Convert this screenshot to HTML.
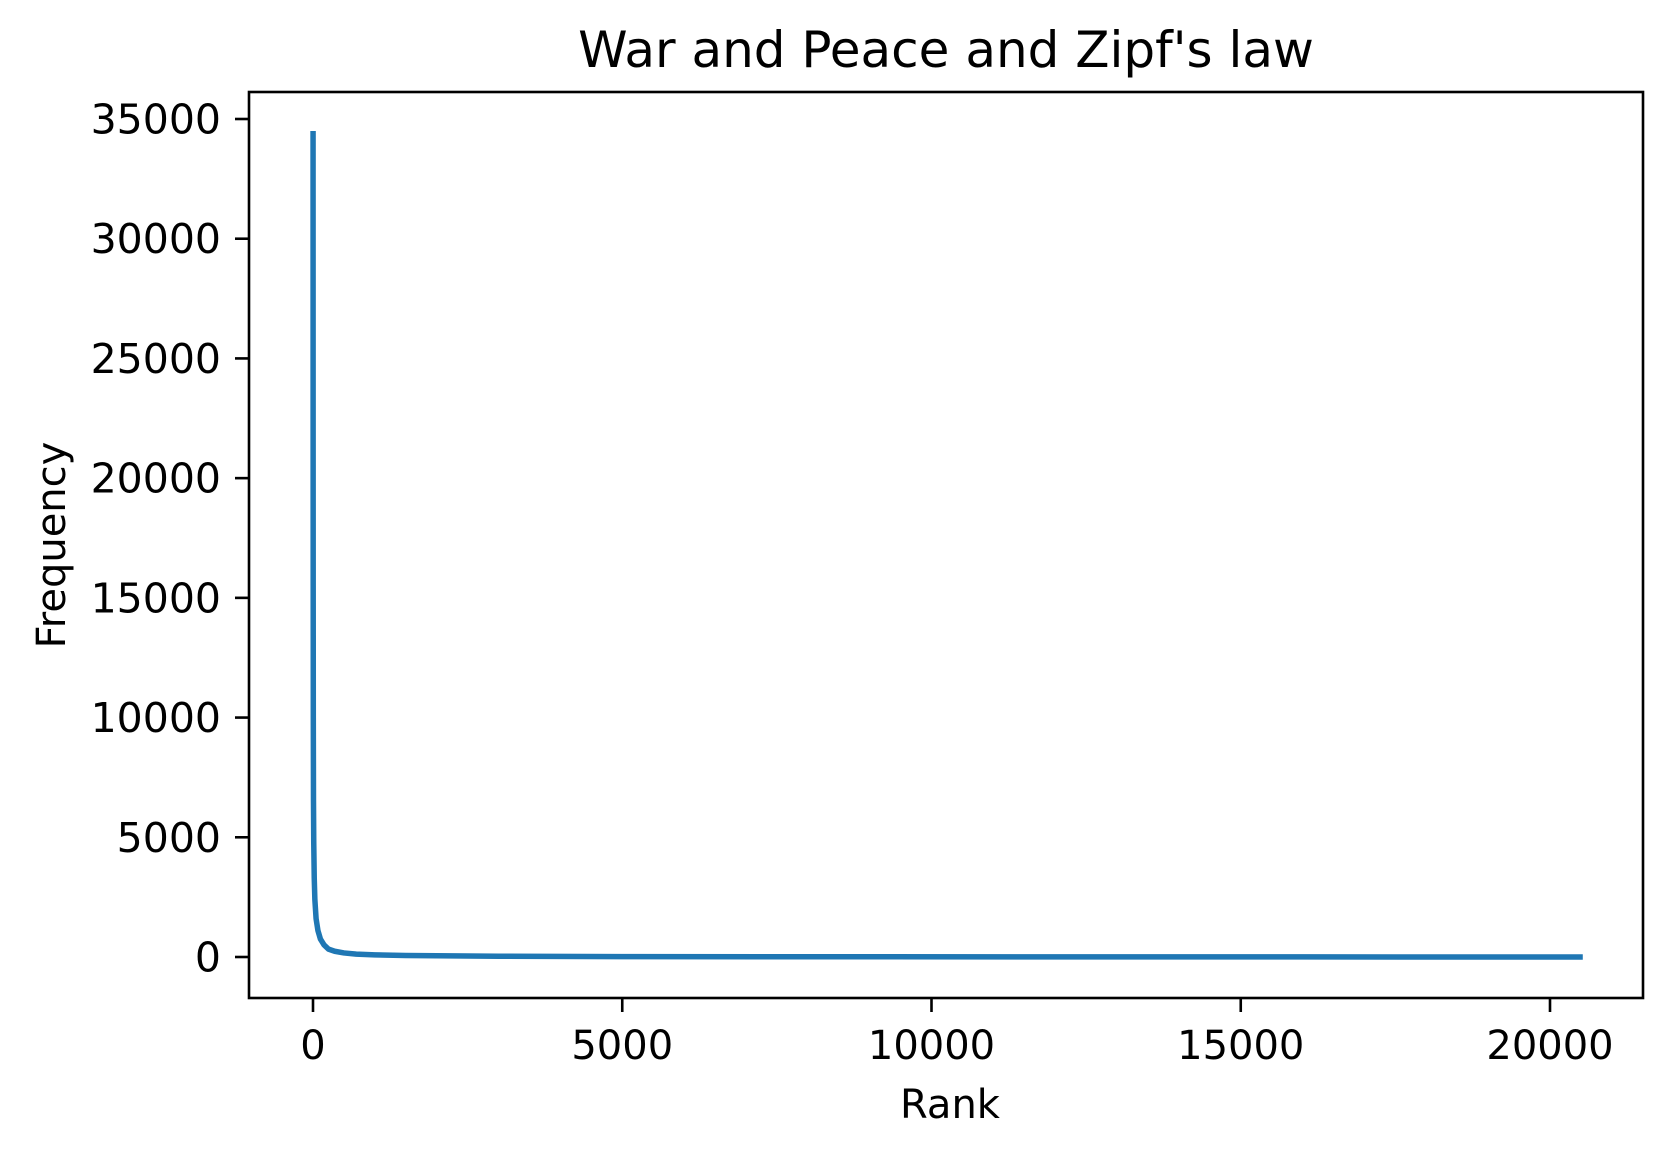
<!DOCTYPE html>
<html><head><meta charset="utf-8"><style>
html,body{margin:0;padding:0;background:#fff;}
svg{display:block;font-family:"DejaVu Sans","Liberation Sans",sans-serif;}
</style></head><body>
<svg id="chart" width="1673" height="1154" viewBox="0 0 1673 1154">
<rect width="1673" height="1154" fill="#fff"/>
<text x="946" y="67" font-size="50" text-anchor="middle">War and Peace and Zipf's law</text>
<text x="950" y="1118" font-size="40" text-anchor="middle">Rank</text>
<text transform="translate(65,545) rotate(-90)" font-size="40" text-anchor="middle">Frequency</text>
<g id="xticks"></g>
<g id="yticks"></g>
<path id="line" fill="none" stroke="#1f77b4" stroke-width="5.5" stroke-linejoin="round"/>
<rect x="249" y="92" width="1394" height="906" fill="none" stroke="#000" stroke-width="2.6"/>
</svg>
<script>
const ranks = [1,2,3,5,8,12,20,30,50,80,120,180,250,350,500,700,1000,1500,2000,3000,5000,8000,12000,16000,20530];
const freqs = [34500,22000,15500,10000,6500,4800,3300,2400,1600,1100,750,500,330,240,170,120,90,65,50,32,18,10,5,3,1];
const xTicks = [0,5000,10000,15000,20000];
const yTicks = [0,5000,10000,15000,20000,25000,30000,35000];
const NS="http://www.w3.org/2000/svg";
function xs(v){return 313+(v-0)*(1550-313)/20000;}
function ys(v){return 957-v*(957-119)/35000;}
let d="";
for(let i=0;i<ranks.length;i++){d+=(i?"L":"M")+xs(ranks[i]).toFixed(2)+","+ys(freqs[i]).toFixed(2);}
document.getElementById('line').setAttribute('d',d);
const gx=document.getElementById('xticks');
xTicks.forEach(t=>{
 const l=document.createElementNS(NS,'line');
 l.setAttribute('x1',xs(t));l.setAttribute('x2',xs(t));l.setAttribute('y1',998);l.setAttribute('y2',1012);
 l.setAttribute('stroke','#000');l.setAttribute('stroke-width','2.6');
 
 
 gx.appendChild(l);
 const tx=document.createElementNS(NS,'text');
 tx.setAttribute('x',xs(t));tx.setAttribute('y',1059);tx.setAttribute('font-size','40');tx.setAttribute('text-anchor','middle');
 tx.textContent=t;
 
 
 gx.appendChild(tx);
});
const gy=document.getElementById('yticks');
yTicks.forEach(t=>{
 const l=document.createElementNS(NS,'line');
 l.setAttribute('x1',235);l.setAttribute('x2',249);l.setAttribute('y1',ys(t));l.setAttribute('y2',ys(t));
 l.setAttribute('stroke','#000');l.setAttribute('stroke-width','2.6');
 
 
 gy.appendChild(l);
 const tx=document.createElementNS(NS,'text');
 tx.setAttribute('x',221);tx.setAttribute('y',ys(t)+14.5);tx.setAttribute('font-size','41');tx.setAttribute('text-anchor','end');
 tx.textContent=t;
 
 
 gy.appendChild(tx);
});
</script>
</body></html>
